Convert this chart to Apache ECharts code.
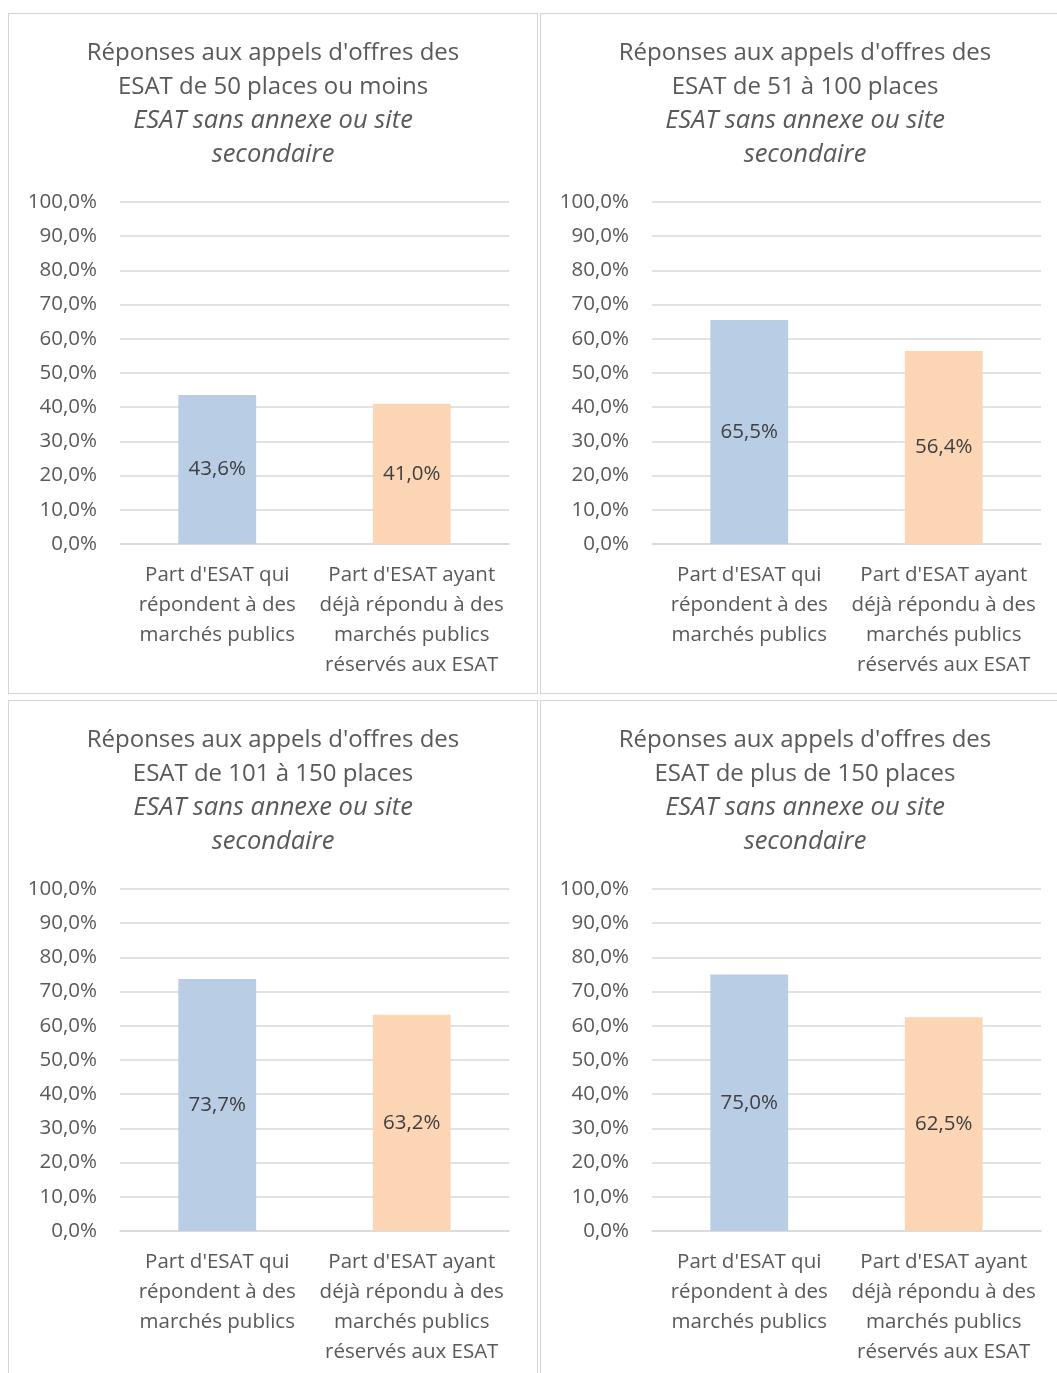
<!DOCTYPE html>
<html lang="fr">
<head>
<meta charset="utf-8">
<title>Réponses aux appels d'offres des ESAT</title>
<script src="https://cdn.jsdelivr.net/npm/echarts@6/dist/echarts.min.js"></script>
<style>
  html, body { margin: 0; padding: 0; background: #ffffff; width: 1057px; height: 1373px; overflow: hidden; position: relative; }
  .panel { position: absolute; box-sizing: border-box; width: 530px; height: 681px; border: 1px solid #d4d4d4; background: #fff; }
  .chart { width: 100%; height: 100%; }
</style>
</head>
<body>
<div class="panel" style="left:8px;top:13px;"><div id="c1" class="chart"></div></div>
<div class="panel" style="left:540px;top:13px;"><div id="c2" class="chart"></div></div>
<div class="panel" style="left:8px;top:700px;"><div id="c3" class="chart"></div></div>
<div class="panel" style="left:540px;top:700px;"><div id="c4" class="chart"></div></div>
<script>
// Categories shared by the four charts
const categories = [
  "Part d'ESAT qui\nrépondent à des\nmarchés publics",
  "Part d'ESAT ayant\ndéjà répondu à des\nmarchés publics\nréservés aux ESAT"
];

// Size classes of the ESAT (second title line of each chart)
const sizeClasses = [
  "ESAT de 50 places ou moins",
  "ESAT de 51 à 100 places",
  "ESAT de 101 à 150 places",
  "ESAT de plus de 150 places"
];

// Shares in percent: [answering public tenders, already answered reserved tenders]
const values50OrLess = [43.6, 41.0];
const values51to100 = [65.5, 56.4];
const values101to150 = [73.7, 63.2];
const valuesOver150 = [75.0, 62.5];

// Value axis ticks (percent)
const axisMin = 0;
const axisMax = 100;
const axisStep = 10;

const barColors = ['#b9cde5', '#fcd5b5'];
const fontFamily = "'Open Sans', 'DejaVu Sans', sans-serif";

function fmtPct(v) {
  return v.toFixed(1).replace('.', ',') + '%';
}

function buildOption(sizeClass, values) {
  return {
    animation: false,
    textStyle: { fontFamily: fontFamily },
    title: {
      left: 'center',
      top: 17,
      text: '{t|Réponses aux appels d\'offres des}\n{t|' + sizeClass + '}\n{s|ESAT sans annexe ou site}\n{s|secondaire}',
      textStyle: {
        fontWeight: 'normal',
        rich: {
          t: { fontSize: 24, lineHeight: 34, color: '#595959', fontWeight: 'normal', fontFamily: fontFamily },
          s: { fontSize: 25.5, lineHeight: 34, color: '#595959', fontWeight: 'normal', fontStyle: 'italic', fontFamily: fontFamily }
        }
      }
    },
    grid: { left: 111, top: 188, width: 389, height: 342, containLabel: false },
    xAxis: {
      type: 'category',
      data: categories,
      axisLine: { show: true, lineStyle: { color: '#d9d9d9', width: 1.5 } },
      axisTick: { show: false },
      axisLabel: {
        interval: 0,
        color: '#595959',
        fontSize: 20.5,
        lineHeight: 30,
        margin: 16,
        fontFamily: fontFamily
      }
    },
    yAxis: {
      type: 'value',
      min: axisMin,
      max: axisMax,
      interval: axisStep,
      axisLine: { show: false },
      axisTick: { show: false },
      splitLine: { lineStyle: { color: '#d9d9d9', width: 1.5 } },
      axisLabel: {
        color: '#595959',
        fontSize: 20.5,
        margin: 23,
        fontFamily: fontFamily,
        formatter: fmtPct
      }
    },
    series: [{
      type: 'bar',
      barWidth: '40%',
      data: values.map((v, i) => ({ value: v, itemStyle: { color: barColors[i] } })),
      label: {
        show: true,
        position: 'inside',
        color: '#404040',
        fontSize: 20.5,
        fontFamily: fontFamily,
        formatter: p => fmtPct(p.value)
      }
    }]
  };
}

const panels = [
  ['c1', sizeClasses[0], values50OrLess],
  ['c2', sizeClasses[1], values51to100],
  ['c3', sizeClasses[2], values101to150],
  ['c4', sizeClasses[3], valuesOver150]
];

panels.forEach(([id, label, vals]) => {
  const chart = echarts.init(document.getElementById(id), null, { renderer: 'canvas' });
  chart.setOption(buildOption(label, vals));
});
</script>
</body>
</html>
